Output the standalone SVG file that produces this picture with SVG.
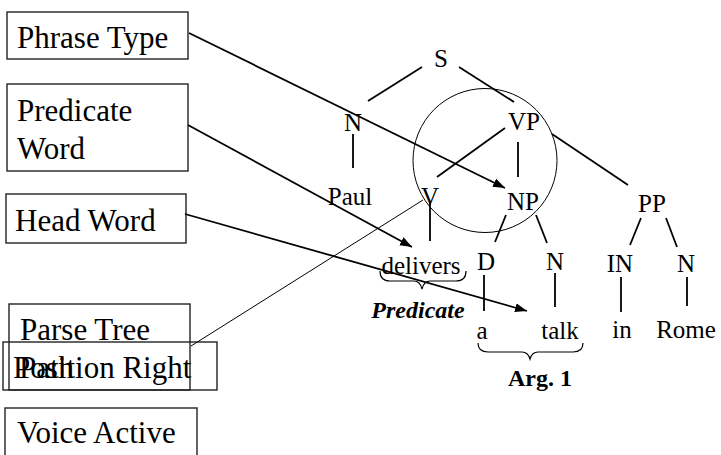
<svg xmlns="http://www.w3.org/2000/svg" width="721" height="455" viewBox="0 0 721 455">
<style>
.box{fill:none;stroke:#222;stroke-width:1.4}
.bt{font-family:"Liberation Serif","Times New Roman",serif;font-size:31px;fill:#000}
.tl{font-family:"Liberation Serif","Times New Roman",serif;font-size:25px;fill:#000;text-anchor:middle}
.lab{font-family:"Liberation Serif","Times New Roman",serif;font-size:24px;font-weight:bold;fill:#000;text-anchor:middle}
.edge{stroke:#000;stroke-width:1.8;fill:none}
.arr{stroke:#000;stroke-width:1.8;fill:none;marker-end:url(#ah)}
.thin{stroke:#000;stroke-width:1;fill:none}
.brace{stroke:#000;stroke-width:1.2;fill:none}
</style>
<defs>
<marker id="ah" markerUnits="userSpaceOnUse" markerWidth="14" markerHeight="10" refX="12" refY="4.5" orient="auto">
<path d="M0,0 L12,4.5 L0,9 z" fill="#000"/>
</marker>
</defs>
<g id="box-phrase-type"><rect class="box" x="7" y="12" width="181" height="47"/><text class="bt" x="17" y="48">Phrase Type</text></g>
<g id="box-predicate-word"><rect class="box" x="7" y="84" width="181" height="87"/><text class="bt" x="17" y="121">Predicate</text><text class="bt" x="17" y="159">Word</text></g>
<g id="box-head-word"><rect class="box" x="6" y="194" width="180" height="49"/><text class="bt" x="15" y="231">Head Word</text></g>
<g id="box-parse-tree-path"><rect class="box" x="9" y="304" width="181" height="86"/><text class="bt" x="20" y="340">Parse Tree</text><text class="bt" x="19" y="378">Path</text></g>
<g id="box-position"><rect class="box" x="3" y="342" width="214" height="48"/><text class="bt" x="13" y="378">Position Right</text></g>
<g id="box-voice"><rect class="box" x="5" y="408" width="192" height="60"/><text class="bt" x="17" y="443">Voice Active</text></g>
<g id="tree">
<g id="n-S"><text class="tl" x="441" y="67">S</text></g>
<g id="n-N1"><text class="tl" x="353" y="131">N</text></g>
<g id="n-VP"><text class="tl" x="524" y="130">VP</text></g>
<g id="n-Paul"><text class="tl" x="350" y="205">Paul</text></g>
<g id="n-V"><text class="tl" x="430" y="205">V</text></g>
<g id="n-NP"><text class="tl" x="523" y="210">NP</text></g>
<g id="n-PP"><text class="tl" x="652" y="212">PP</text></g>
<g id="n-delivers"><text class="tl" x="421" y="274">delivers</text></g>
<g id="n-D"><text class="tl" x="486" y="270">D</text></g>
<g id="n-N2"><text class="tl" x="555" y="270">N</text></g>
<g id="n-IN"><text class="tl" x="620" y="272">IN</text></g>
<g id="n-N3"><text class="tl" x="686" y="272">N</text></g>
<g id="n-a"><text class="tl" x="482" y="339">a</text></g>
<g id="n-talk"><text class="tl" x="560" y="339">talk</text></g>
<g id="n-in"><text class="tl" x="622" y="338">in</text></g>
<g id="n-Rome"><text class="tl" x="686" y="338">Rome</text></g>
<g id="n-predicate-label"><text class="lab" x="418" y="318" font-style="italic">Predicate</text></g>
<g id="n-arg1-label"><text class="lab" x="540" y="386">Arg. 1</text></g>
</g>
<g id="connectors">
<line class="edge" x1="422" y1="67" x2="368" y2="101"/>
<line class="edge" x1="459" y1="67" x2="514" y2="102"/>
<line class="edge" x1="353" y1="134" x2="353" y2="168"/>
<line class="edge" x1="505" y1="128" x2="437" y2="177"/>
<line class="edge" x1="518" y1="142" x2="518" y2="177"/>
<line class="edge" x1="552" y1="134" x2="628" y2="185"/>
<line class="edge" x1="430" y1="201" x2="430" y2="241"/>
<line class="edge" x1="506" y1="215" x2="495" y2="242"/>
<line class="edge" x1="536" y1="215" x2="547" y2="243"/>
<line class="edge" x1="641" y1="218" x2="630" y2="245"/>
<line class="edge" x1="666" y1="218" x2="677" y2="247"/>
<line class="edge" x1="484" y1="275" x2="484" y2="311"/>
<line class="edge" x1="555" y1="273" x2="555" y2="307"/>
<line class="edge" x1="621" y1="277" x2="621" y2="312"/>
<line class="edge" x1="687" y1="277" x2="687" y2="306"/>
<circle class="thin" cx="485" cy="160.5" r="72"/>
<path class="brace" d="M380,271 Q380,281 390,281 L414,281 Q420,281 422,289 Q424,281 430,281 L456,281 Q466,281 466,271"/>
<path class="brace" d="M478,343 Q478,352 488,352 L522,352 Q528,352 530,359 Q532,352 538,352 L573,352 Q583,352 583,343"/>
<line class="arr" x1="189" y1="33" x2="505" y2="188"/>
<line class="arr" x1="188" y1="125" x2="412" y2="247"/>
<line class="arr" x1="185" y1="214" x2="527" y2="311"/>
<line class="thin" x1="191" y1="346" x2="423" y2="200"/>
</g>
</svg>
